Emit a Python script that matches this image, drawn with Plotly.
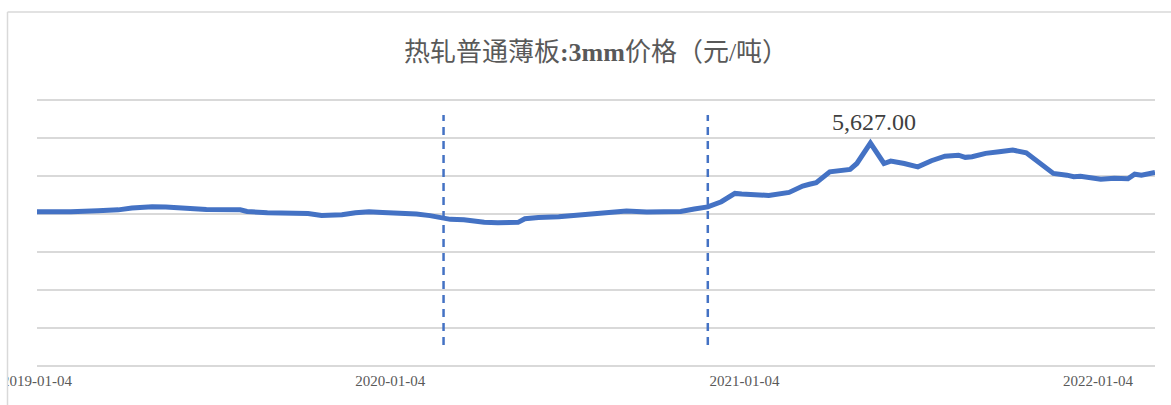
import plotly.graph_objects as go

# ---- data ----
dates = [
    "2019-01-04", "2019-01-18", "2019-02-08", "2019-03-08", "2019-03-29", "2019-04-12",
    "2019-05-03", "2019-05-17", "2019-05-31", "2019-06-21", "2019-06-28", "2019-08-02",
    "2019-08-09", "2019-08-30", "2019-09-20", "2019-10-11", "2019-10-25", "2019-11-15",
    "2019-11-29", "2019-12-13", "2019-12-27", "2020-01-24", "2020-01-31", "2020-02-14",
    "2020-02-28", "2020-03-06", "2020-03-20", "2020-04-10", "2020-04-24", "2020-05-15",
    "2020-05-22", "2020-06-05", "2020-06-26", "2020-07-24", "2020-08-07", "2020-08-28",
    "2020-09-04", "2020-09-25", "2020-10-16", "2020-10-30", "2020-11-13", "2020-11-27",
    "2020-12-11", "2020-12-25", "2021-01-01", "2021-01-29", "2021-02-19", "2021-03-05",
    "2021-03-12", "2021-03-19", "2021-04-02", "2021-04-23", "2021-04-30", "2021-05-14",
    "2021-05-28", "2021-06-04", "2021-06-18", "2021-07-02", "2021-07-16", "2021-07-30",
    "2021-08-13", "2021-08-20", "2021-08-27", "2021-09-10", "2021-09-24", "2021-10-08",
    "2021-10-22", "2021-11-05", "2021-11-19", "2021-12-03", "2021-12-10", "2021-12-17",
    "2022-01-07", "2022-01-21", "2022-02-04", "2022-02-11", "2022-02-18", "2022-03-04",
]
prices = [
    3890, 3880, 3890, 3920, 3940, 3985,
    4020, 4010, 3990, 3935, 3950, 3940,
    3900, 3865, 3865, 3850, 3800, 3815,
    3865, 3890, 3875, 3865, 3835, 3795,
    3725, 3700, 3690, 3625, 3615, 3625,
    3715, 3750, 3765, 3825, 3850, 3885,
    3910, 3885, 3880, 3900, 3960, 4015,
    4145, 4355, 4340, 4305, 4380, 4540,
    4585, 4625, 4900, 4960, 5110, 5627,
    5110, 5170, 5110, 5025, 5180, 5295,
    5320, 5265, 5280, 5365, 5405, 5450,
    5380, 5110, 4860, 4815, 4775, 4790,
    4710, 4735, 4725, 4840, 4815, 4885,
]
tick_dates = ["2019-01-04", "2020-01-04", "2021-01-04", "2022-01-04"]
marker_dates = ["2020-02-28", "2020-11-27"]
peak_date = "2021-05-14"
peak_value = 5627
title_parts = ["热轧普通薄板", ":3mm", "价格（元/吨）"]

# ---- figure ----
W, H = 1171, 405
PAD = 4                      # extra pixels so edge gridlines are kept
ML, MR = 37, 16
MT, MB = 100 - PAD, 39 - PAD
plot_w = W - ML - MR
plot_h = H - MT - MB

y_max = 6712
n_grid = 7
grid_vals = [y_max * i / n_grid for i in range(n_grid + 1)]
per_px = y_max / (plot_h - 2 * PAD)

fig = go.Figure()
fig.add_trace(go.Scatter(
    x=dates, y=prices, mode="lines",
    line=dict(color="#4472C4", width=5),
    hoverinfo="x+y", showlegend=False,
))

def px_x(p):
    return (p - ML) / plot_w

def px_y(p):
    return (H - MB - p) / plot_h

shapes = []
for d in marker_dates:
    shapes.append(dict(
        type="line", xref="x", yref="paper", x0=d, x1=d,
        y0=px_y(345), y1=px_y(115),
        line=dict(color="#4472C4", width=2.5, dash="8px,6px"),
    ))
# white cover at far left (chart box clipping) and the chart border
shapes.append(dict(type="rect", xref="paper", yref="paper",
                   x0=px_x(-5), x1=px_x(7), y0=px_y(H + 5), y1=px_y(-5),
                   fillcolor="white", line=dict(width=0), layer="above"))
shapes.append(dict(type="line", xref="paper", yref="paper",
                   x0=px_x(7.5), x1=px_x(7.5), y0=px_y(H + 2), y1=px_y(12),
                   line=dict(color="#D9D9D9", width=1.5), layer="above"))
shapes.append(dict(type="line", xref="paper", yref="paper",
                   x0=px_x(7.5), x1=px_x(W + 2), y0=px_y(12), y1=px_y(12),
                   line=dict(color="#D9D9D9", width=1.5), layer="above"))

title_html = (title_parts[0] + "<b>" + title_parts[1] + "</b>" + title_parts[2])

fig.update_layout(
    width=W, height=H,
    margin=dict(l=ML, r=MR, t=MT, b=MB, autoexpand=False),
    paper_bgcolor="white", plot_bgcolor="white",
    title=dict(
        text=title_html,
        x=0.5, xref="paper", xanchor="center",
        y=1 - 52 / H, yref="container", yanchor="middle",
        font=dict(family="Liberation Serif, Noto Sans CJK SC", size=26, color="#595959"),
    ),
    xaxis=dict(
        type="date", automargin=False,
        range=[dates[0], dates[-1]],
        tickmode="array", tickvals=tick_dates, ticktext=tick_dates,
        showgrid=False, showline=False, zeroline=False, ticks="",
        ticklabeloverflow="allow",
        tickfont=dict(family="Liberation Serif", size=15, color="#595959"),
    ),
    yaxis=dict(
        automargin=False,
        range=[-PAD * per_px, y_max + PAD * per_px],
        tickmode="array", tickvals=grid_vals,
        showticklabels=False, showgrid=True,
        gridcolor="#D9D9D9", gridwidth=1.5,
        zeroline=False, showline=False, ticks="",
    ),
    shapes=shapes,
    annotations=[dict(
        x=peak_date, y=peak_value, xref="x", yref="y",
        text=f"{peak_value:,.2f}", showarrow=False,
        xshift=4, yshift=21, yanchor="middle",
        font=dict(family="Liberation Serif", size=24, color="#404040"),
    )],
)

fig.write_html("out.html", config={"displayModeBar": False},
               post_script="document.body.style.margin='0';")
